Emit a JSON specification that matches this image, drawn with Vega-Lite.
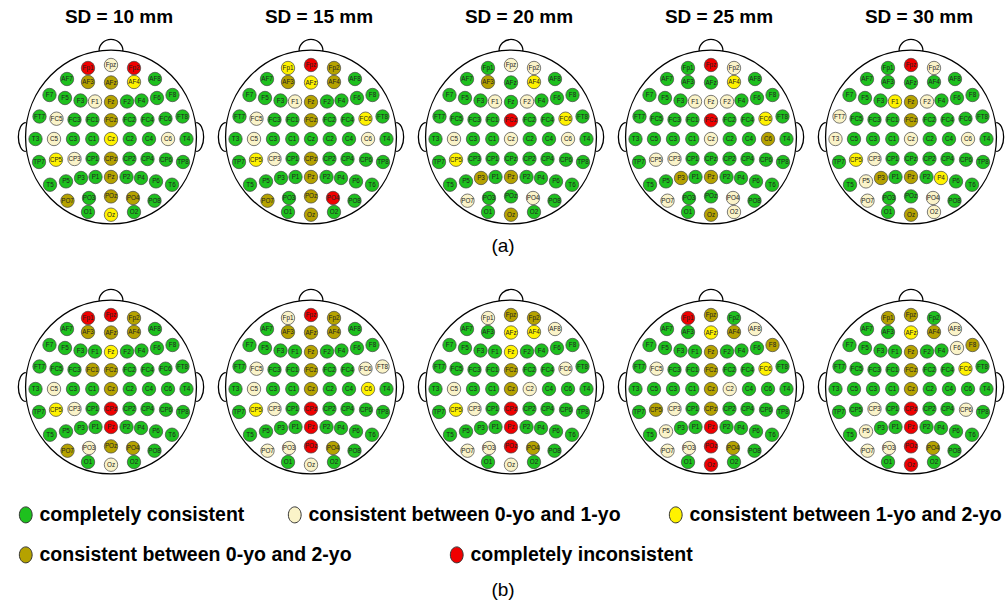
{
  "$schema": "https://vega.github.io/schema/vega-lite/v6.json",
  "background": "white",
  "autosize": {"type": "pad"},
  "padding": {"left": 15, "top": 8, "right": 0, "bottom": 0},
  "bounds": "flush",
  "datasets": {
    "montage": [
      {"e": "head", "x": 0, "y": 0},
      {"e": "capA", "x": -8, "y": -108.7},
      {"e": "capB", "x": -8, "y": -202.7},
      {"e": "Fp1", "x": -23, "y": 69}, {"e": "Fpz", "x": 0, "y": 72}, {"e": "Fp2", "x": 23, "y": 69},
      {"e": "AF7", "x": -44, "y": 58}, {"e": "AF3", "x": -23, "y": 55}, {"e": "AFz", "x": 0, "y": 54.5}, {"e": "AF4", "x": 23, "y": 55}, {"e": "AF8", "x": 44, "y": 58},
      {"e": "F7", "x": -61.5, "y": 42}, {"e": "F5", "x": -46, "y": 39}, {"e": "F3", "x": -30.5, "y": 36.5}, {"e": "F1", "x": -16, "y": 35.5}, {"e": "Fz", "x": 0, "y": 35}, {"e": "F2", "x": 16, "y": 35.5}, {"e": "F4", "x": 30.5, "y": 36.5}, {"e": "F6", "x": 46, "y": 39}, {"e": "F8", "x": 61.5, "y": 42},
      {"e": "FT7", "x": -71.5, "y": 20.5}, {"e": "FC5", "x": -54.5, "y": 18.3}, {"e": "FC3", "x": -36.5, "y": 17.3}, {"e": "FC1", "x": -18.5, "y": 17.3}, {"e": "FCz", "x": 0, "y": 16.7}, {"e": "FC2", "x": 18.5, "y": 17.3}, {"e": "FC4", "x": 36.5, "y": 17.3}, {"e": "FC6", "x": 54.5, "y": 18.3}, {"e": "FT8", "x": 71.5, "y": 20.5},
      {"e": "T3", "x": -75.5, "y": -2}, {"e": "C5", "x": -57, "y": -2}, {"e": "C3", "x": -38, "y": -2}, {"e": "C1", "x": -18.7, "y": -2}, {"e": "Cz", "x": 0, "y": -2}, {"e": "C2", "x": 18.7, "y": -2}, {"e": "C4", "x": 38, "y": -2}, {"e": "C6", "x": 57, "y": -2}, {"e": "T4", "x": 75.5, "y": -2},
      {"e": "TP7", "x": -72, "y": -25}, {"e": "CP5", "x": -55, "y": -22.7}, {"e": "CP3", "x": -36.5, "y": -22}, {"e": "CP1", "x": -18.5, "y": -21.7}, {"e": "CPz", "x": 0, "y": -21.7}, {"e": "CP2", "x": 18.5, "y": -21.7}, {"e": "CP4", "x": 36.5, "y": -22}, {"e": "CP6", "x": 55, "y": -22.7}, {"e": "TP8", "x": 72, "y": -25},
      {"e": "T5", "x": -61, "y": -47.7}, {"e": "P5", "x": -45, "y": -44.4}, {"e": "P3", "x": -30, "y": -41}, {"e": "P1", "x": -15.5, "y": -40}, {"e": "Pz", "x": 0, "y": -40}, {"e": "P2", "x": 15.5, "y": -40}, {"e": "P4", "x": 30, "y": -41}, {"e": "P6", "x": 45, "y": -44.4}, {"e": "T6", "x": 61, "y": -47.7},
      {"e": "PO7", "x": -43.5, "y": -63.7}, {"e": "PO3", "x": -22, "y": -61}, {"e": "POz", "x": 0, "y": -59.4}, {"e": "PO4", "x": 22, "y": -61}, {"e": "PO8", "x": 43.5, "y": -63.7},
      {"e": "O1", "x": -23, "y": -75}, {"e": "Oz", "x": 0, "y": -77.7}, {"e": "O2", "x": 23, "y": -75}
    ],
    "panels": [
      {"sd": "SD = 10 mm", "r": "a", "head": "H",
       "Fp1": "R", "Fpz": "C", "Fp2": "R",
       "AF7": "G", "AF3": "O", "AFz": "O", "AF4": "Y", "AF8": "G",
       "F7": "G", "F5": "G", "F3": "G", "F1": "C", "Fz": "O", "F2": "G", "F4": "G", "F6": "G", "F8": "G",
       "FT7": "G", "FC5": "C", "FC3": "G", "FC1": "G", "FCz": "O", "FC2": "G", "FC4": "G", "FC6": "G", "FT8": "G",
       "T3": "G", "C5": "C", "C3": "G", "C1": "G", "Cz": "Y", "C2": "G", "C4": "G", "C6": "C", "T4": "G",
       "TP7": "G", "CP5": "Y", "CP3": "C", "CP1": "G", "CPz": "O", "CP2": "G", "CP4": "G", "CP6": "G", "TP8": "G",
       "T5": "G", "P5": "G", "P3": "G", "P1": "G", "Pz": "O", "P2": "G", "P4": "G", "P6": "G", "T6": "G",
       "PO7": "O", "PO3": "G", "POz": "O", "PO4": "O", "PO8": "G",
       "O1": "G", "Oz": "Y", "O2": "G"},
      {"sd": "SD = 15 mm", "r": "a", "head": "H",
       "Fp1": "Y", "Fpz": "R", "Fp2": "O",
       "AF7": "G", "AF3": "O", "AFz": "Y", "AF4": "O", "AF8": "G",
       "F7": "G", "F5": "G", "F3": "G", "F1": "C", "Fz": "O", "F2": "G", "F4": "G", "F6": "G", "F8": "G",
       "FT7": "G", "FC5": "C", "FC3": "G", "FC1": "G", "FCz": "O", "FC2": "G", "FC4": "G", "FC6": "Y", "FT8": "G",
       "T3": "G", "C5": "C", "C3": "G", "C1": "G", "Cz": "G", "C2": "G", "C4": "G", "C6": "C", "T4": "G",
       "TP7": "G", "CP5": "Y", "CP3": "C", "CP1": "G", "CPz": "O", "CP2": "G", "CP4": "G", "CP6": "G", "TP8": "G",
       "T5": "G", "P5": "G", "P3": "G", "P1": "G", "Pz": "O", "P2": "G", "P4": "G", "P6": "G", "T6": "G",
       "PO7": "O", "PO3": "G", "POz": "O", "PO4": "R", "PO8": "G",
       "O1": "G", "Oz": "O", "O2": "G"},
      {"sd": "SD = 20 mm", "r": "a", "head": "H", "capA": "(a)",
       "Fp1": "G", "Fpz": "C", "Fp2": "C",
       "AF7": "G", "AF3": "O", "AFz": "G", "AF4": "Y", "AF8": "G",
       "F7": "G", "F5": "G", "F3": "G", "F1": "C", "Fz": "G", "F2": "C", "F4": "G", "F6": "G", "F8": "G",
       "FT7": "G", "FC5": "G", "FC3": "G", "FC1": "G", "FCz": "R", "FC2": "G", "FC4": "G", "FC6": "Y", "FT8": "G",
       "T3": "G", "C5": "C", "C3": "G", "C1": "G", "Cz": "C", "C2": "G", "C4": "G", "C6": "C", "T4": "G",
       "TP7": "G", "CP5": "Y", "CP3": "G", "CP1": "G", "CPz": "G", "CP2": "G", "CP4": "G", "CP6": "G", "TP8": "G",
       "T5": "G", "P5": "G", "P3": "O", "P1": "G", "Pz": "O", "P2": "G", "P4": "G", "P6": "G", "T6": "G",
       "PO7": "C", "PO3": "G", "POz": "G", "PO4": "C", "PO8": "G",
       "O1": "G", "Oz": "O", "O2": "G"},
      {"sd": "SD = 25 mm", "r": "a", "head": "H",
       "Fp1": "G", "Fpz": "R", "Fp2": "C",
       "AF7": "G", "AF3": "G", "AFz": "G", "AF4": "Y", "AF8": "G",
       "F7": "G", "F5": "G", "F3": "G", "F1": "C", "Fz": "C", "F2": "C", "F4": "G", "F6": "G", "F8": "G",
       "FT7": "G", "FC5": "G", "FC3": "G", "FC1": "G", "FCz": "R", "FC2": "G", "FC4": "G", "FC6": "Y", "FT8": "G",
       "T3": "G", "C5": "G", "C3": "G", "C1": "G", "Cz": "C", "C2": "G", "C4": "G", "C6": "O", "T4": "G",
       "TP7": "G", "CP5": "C", "CP3": "C", "CP1": "G", "CPz": "G", "CP2": "G", "CP4": "G", "CP6": "G", "TP8": "G",
       "T5": "G", "P5": "G", "P3": "O", "P1": "G", "Pz": "O", "P2": "G", "P4": "G", "P6": "G", "T6": "G",
       "PO7": "C", "PO3": "G", "POz": "G", "PO4": "C", "PO8": "G",
       "O1": "G", "Oz": "O", "O2": "C"},
      {"sd": "SD = 30 mm", "r": "a", "head": "H",
       "Fp1": "G", "Fpz": "R", "Fp2": "C",
       "AF7": "G", "AF3": "G", "AFz": "G", "AF4": "G", "AF8": "G",
       "F7": "G", "F5": "G", "F3": "G", "F1": "Y", "Fz": "O", "F2": "C", "F4": "G", "F6": "G", "F8": "G",
       "FT7": "C", "FC5": "G", "FC3": "G", "FC1": "G", "FCz": "O", "FC2": "G", "FC4": "G", "FC6": "G", "FT8": "G",
       "T3": "C", "C5": "G", "C3": "G", "C1": "G", "Cz": "C", "C2": "G", "C4": "G", "C6": "C", "T4": "G",
       "TP7": "G", "CP5": "Y", "CP3": "C", "CP1": "G", "CPz": "G", "CP2": "G", "CP4": "G", "CP6": "G", "TP8": "G",
       "T5": "G", "P5": "C", "P3": "O", "P1": "G", "Pz": "O", "P2": "G", "P4": "Y", "P6": "G", "T6": "G",
       "PO7": "C", "PO3": "G", "POz": "G", "PO4": "C", "PO8": "G",
       "O1": "G", "Oz": "O", "O2": "C"},
      {"sd": "SD = 10 mm", "r": "b", "head": "H",
       "Fp1": "R", "Fpz": "R", "Fp2": "O",
       "AF7": "G", "AF3": "O", "AFz": "O", "AF4": "O", "AF8": "G",
       "F7": "G", "F5": "G", "F3": "G", "F1": "G", "Fz": "Y", "F2": "G", "F4": "G", "F6": "G", "F8": "G",
       "FT7": "G", "FC5": "G", "FC3": "G", "FC1": "O", "FCz": "O", "FC2": "G", "FC4": "G", "FC6": "G", "FT8": "G",
       "T3": "G", "C5": "C", "C3": "G", "C1": "G", "Cz": "O", "C2": "G", "C4": "G", "C6": "G", "T4": "G",
       "TP7": "G", "CP5": "Y", "CP3": "C", "CP1": "G", "CPz": "R", "CP2": "G", "CP4": "G", "CP6": "G", "TP8": "G",
       "T5": "G", "P5": "G", "P3": "G", "P1": "G", "Pz": "R", "P2": "G", "P4": "G", "P6": "G", "T6": "G",
       "PO7": "O", "PO3": "C", "POz": "O", "PO4": "O", "PO8": "G",
       "O1": "G", "Oz": "C", "O2": "G"},
      {"sd": "SD = 15 mm", "r": "b", "head": "H",
       "Fp1": "C", "Fpz": "R", "Fp2": "O",
       "AF7": "G", "AF3": "O", "AFz": "O", "AF4": "O", "AF8": "G",
       "F7": "G", "F5": "G", "F3": "G", "F1": "G", "Fz": "O", "F2": "G", "F4": "G", "F6": "G", "F8": "G",
       "FT7": "G", "FC5": "C", "FC3": "G", "FC1": "G", "FCz": "O", "FC2": "G", "FC4": "G", "FC6": "C", "FT8": "C",
       "T3": "G", "C5": "C", "C3": "G", "C1": "G", "Cz": "O", "C2": "G", "C4": "G", "C6": "Y", "T4": "G",
       "TP7": "G", "CP5": "Y", "CP3": "C", "CP1": "G", "CPz": "R", "CP2": "G", "CP4": "G", "CP6": "G", "TP8": "G",
       "T5": "G", "P5": "G", "P3": "G", "P1": "G", "Pz": "R", "P2": "G", "P4": "G", "P6": "G", "T6": "G",
       "PO7": "C", "PO3": "C", "POz": "R", "PO4": "O", "PO8": "G",
       "O1": "G", "Oz": "C", "O2": "G"},
      {"sd": "SD = 20 mm", "r": "b", "head": "H", "capB": "(b)",
       "Fp1": "C", "Fpz": "O", "Fp2": "O",
       "AF7": "G", "AF3": "G", "AFz": "Y", "AF4": "Y", "AF8": "C",
       "F7": "G", "F5": "G", "F3": "G", "F1": "G", "Fz": "Y", "F2": "G", "F4": "G", "F6": "G", "F8": "G",
       "FT7": "G", "FC5": "G", "FC3": "G", "FC1": "G", "FCz": "O", "FC2": "G", "FC4": "G", "FC6": "C", "FT8": "G",
       "T3": "G", "C5": "C", "C3": "G", "C1": "G", "Cz": "O", "C2": "C", "C4": "G", "C6": "G", "T4": "G",
       "TP7": "G", "CP5": "Y", "CP3": "C", "CP1": "G", "CPz": "R", "CP2": "G", "CP4": "G", "CP6": "G", "TP8": "G",
       "T5": "G", "P5": "G", "P3": "G", "P1": "G", "Pz": "R", "P2": "G", "P4": "G", "P6": "G", "T6": "G",
       "PO7": "C", "PO3": "C", "POz": "R", "PO4": "O", "PO8": "G",
       "O1": "G", "Oz": "C", "O2": "G"},
      {"sd": "SD = 25 mm", "r": "b", "head": "H",
       "Fp1": "R", "Fpz": "O", "Fp2": "G",
       "AF7": "G", "AF3": "G", "AFz": "Y", "AF4": "O", "AF8": "C",
       "F7": "G", "F5": "G", "F3": "G", "F1": "G", "Fz": "O", "F2": "G", "F4": "G", "F6": "G", "F8": "O",
       "FT7": "G", "FC5": "C", "FC3": "G", "FC1": "G", "FCz": "O", "FC2": "G", "FC4": "G", "FC6": "Y", "FT8": "G",
       "T3": "G", "C5": "G", "C3": "G", "C1": "G", "Cz": "O", "C2": "C", "C4": "G", "C6": "G", "T4": "G",
       "TP7": "G", "CP5": "O", "CP3": "C", "CP1": "G", "CPz": "O", "CP2": "G", "CP4": "G", "CP6": "G", "TP8": "G",
       "T5": "G", "P5": "C", "P3": "G", "P1": "G", "Pz": "R", "P2": "G", "P4": "G", "P6": "G", "T6": "G",
       "PO7": "C", "PO3": "C", "POz": "R", "PO4": "O", "PO8": "G",
       "O1": "G", "Oz": "R", "O2": "G"},
      {"sd": "SD = 30 mm", "r": "b", "head": "H",
       "Fp1": "O", "Fpz": "O", "Fp2": "G",
       "AF7": "G", "AF3": "G", "AFz": "Y", "AF4": "O", "AF8": "C",
       "F7": "G", "F5": "G", "F3": "G", "F1": "G", "Fz": "O", "F2": "G", "F4": "G", "F6": "C", "F8": "O",
       "FT7": "G", "FC5": "G", "FC3": "G", "FC1": "G", "FCz": "O", "FC2": "G", "FC4": "G", "FC6": "Y", "FT8": "G",
       "T3": "G", "C5": "G", "C3": "G", "C1": "G", "Cz": "O", "C2": "G", "C4": "G", "C6": "G", "T4": "G",
       "TP7": "G", "CP5": "G", "CP3": "C", "CP1": "G", "CPz": "R", "CP2": "G", "CP4": "G", "CP6": "C", "TP8": "G",
       "T5": "G", "P5": "C", "P3": "G", "P1": "G", "Pz": "R", "P2": "G", "P4": "G", "P6": "G", "T6": "G",
       "PO7": "C", "PO3": "C", "POz": "R", "PO4": "O", "PO8": "G",
       "O1": "G", "Oz": "R", "O2": "G"}
    ]
  },
  "data": {"name": "panels"},
  "transform": [
    {"fold": ["head", "capA", "capB", "Fp1", "Fpz", "Fp2", "AF7", "AF3", "AFz", "AF4", "AF8", "F7", "F5", "F3", "F1", "Fz", "F2", "F4", "F6", "F8", "FT7", "FC5", "FC3", "FC1", "FCz", "FC2", "FC4", "FC6", "FT8", "T3", "C5", "C3", "C1", "Cz", "C2", "C4", "C6", "T4", "TP7", "CP5", "CP3", "CP1", "CPz", "CP2", "CP4", "CP6", "TP8", "T5", "P5", "P3", "P1", "Pz", "P2", "P4", "P6", "T6", "PO7", "PO3", "POz", "PO4", "PO8", "O1", "Oz", "O2"], "as": ["e", "c"]},
    {"filter": "isValid(datum.c)"},
    {"lookup": "e", "from": {"data": {"name": "montage"}, "key": "e", "fields": ["x", "y"]}}
  ],
  "facet": {
    "column": {"field": "sd", "type": "nominal", "title": null,
      "header": {"labelFont": "Liberation Sans", "labelFontSize": 19, "labelFontWeight": "bold", "labelColor": "black", "labelPadding": 8}},
    "row": {"field": "r", "type": "nominal", "header": null}
  },
  "spacing": {"row": 55, "column": 30},
  "spec": {
    "width": 170,
    "height": 195,
    "encoding": {
      "x": {"field": "x", "type": "quantitative", "scale": {"domain": [-77, 93], "nice": false, "zero": false}, "axis": null},
      "y": {"field": "y", "type": "quantitative", "scale": {"domain": [-93, 102], "nice": false, "zero": false}, "axis": null}
    },
    "layer": [
      {
        "transform": [{"filter": {"field": "e", "equal": "head"}}],
        "mark": {"type": "point", "shape": "M -0.89 0 A 0.89 0.905 0 1 1 0.89 0 A 0.89 0.905 0 1 1 -0.89 0 Z M -0.125 -0.896 A 0.125 0.12 0 0 1 0.125 -0.896 M -0.887 -0.15 A 0.078 0.15 0 0 0 -0.887 0.15 M 0.887 -0.15 A 0.078 0.15 0 0 1 0.887 0.15", "size": 36864, "filled": true, "fill": "white", "stroke": "black", "strokeWidth": 1.3, "opacity": 1}
      },
      {
        "transform": [{"filter": {"field": "c", "oneOf": ["G", "C", "Y"]}}],
        "mark": {"type": "point", "shape": "circle", "size": 180, "filled": true, "stroke": "#444444", "strokeWidth": 0.7, "opacity": 1},
        "encoding": {
          "color": {"field": "c", "type": "nominal",
            "scale": {"domain": ["G", "C", "Y"], "range": ["#1ec01e", "#faf3c8", "#fff200"]},
            "legend": {"title": null, "orient": "none", "legendX": -18, "legendY": 470, "direction": "horizontal", "columns": 3,
              "symbolType": "M -0.8 0 A 0.8 1 0 1 1 0.8 0 A 0.8 1 0 1 1 -0.8 0 Z", "symbolSize": 256, "symbolStrokeColor": "#333333", "symbolStrokeWidth": 1, "symbolOpacity": 1,
              "labelFont": "Liberation Sans", "labelFontWeight": "bold", "labelFontSize": 19.5, "labelColor": "black", "labelLimit": 600, "labelOffset": 4,
              "columnPadding": 40, "padding": 0,
              "labelExpr": "datum.label == 'G' ? 'completely consistent' : datum.label == 'C' ? 'consistent between 0-yo and  1-yo' : 'consistent between 1-yo and 2-yo'"}}
        }
      },
      {
        "transform": [{"filter": {"field": "c", "oneOf": ["O", "R"]}}],
        "mark": {"type": "point", "shape": "circle", "size": 180, "filled": true, "stroke": "#444444", "strokeWidth": 0.7, "opacity": 1},
        "encoding": {
          "fill": {"field": "c", "type": "nominal",
            "scale": {"domain": ["O", "R"], "range": ["#b5a200", "#f00000"]},
            "legend": {"title": null, "orient": "none", "legendX": -18, "legendY": 510, "direction": "horizontal", "columns": 2,
              "symbolType": "M -0.8 0 A 0.8 1 0 1 1 0.8 0 A 0.8 1 0 1 1 -0.8 0 Z", "symbolSize": 256, "symbolStrokeColor": "#333333", "symbolStrokeWidth": 1, "symbolOpacity": 1,
              "labelFont": "Liberation Sans", "labelFontWeight": "bold", "labelFontSize": 19.5, "labelColor": "black", "labelLimit": 600, "labelOffset": 4,
              "columnPadding": 95, "padding": 0,
              "labelExpr": "datum.label == 'O' ? 'consistent between 0-yo and 2-yo' : 'completely inconsistent'"}}
        }
      },
      {
        "transform": [{"filter": {"field": "c", "oneOf": ["G", "C", "Y", "O", "R"]}}],
        "mark": {"type": "text", "fontSize": 6.3, "font": "Liberation Sans", "fill": "#222222"},
        "encoding": {"text": {"field": "e", "type": "nominal"}}
      },
      {
        "transform": [{"filter": {"field": "e", "oneOf": ["capA", "capB"]}}],
        "mark": {"type": "text", "fontSize": 19, "font": "Liberation Sans", "fill": "black"},
        "encoding": {"text": {"field": "c", "type": "nominal"}}
      }
    ]
  },
  "config": {"view": {"stroke": null}}
}
